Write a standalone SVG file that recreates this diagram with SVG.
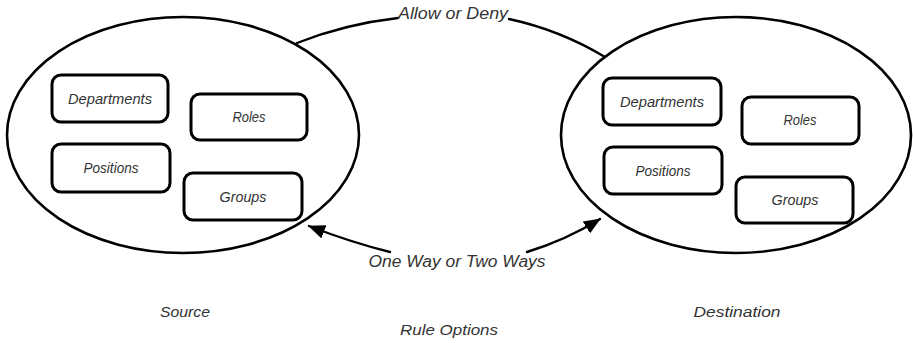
<svg xmlns="http://www.w3.org/2000/svg" width="913" height="343" viewBox="0 0 913 343">
  <style>
    .scope { fill: #ffffff; stroke: #000000; stroke-width: 2.6; }
    .box { fill: #ffffff; stroke: #000000; stroke-width: 3; stroke-linejoin: round; }
    .lbl { font-family: "Liberation Sans", Arial, sans-serif; font-style: italic; fill: #333333; text-anchor: middle; }
    .small { font-size: 14px; }
    .big { font-size: 16px; }
    .link { fill: none; stroke: #000000; stroke-width: 2.4; stroke-linecap: round; }
  </style>
  <defs>
    <marker id="head" markerUnits="userSpaceOnUse" markerWidth="18" markerHeight="14" refX="16" refY="7" orient="auto">
      <path d="M0,0 L17,7 L0,14 Z" fill="#000000"/>
    </marker>
  </defs>

  <rect width="913" height="343" fill="#ffffff"/>

  <!-- connectors -->
  <g id="connectors">
    <path class="link" d="M297,43 Q345,24 398,18"/>
    <path class="link" d="M509,19 Q560,30 605,57"/>
    <path class="link" d="M390,252 Q350,242 309,226" marker-end="url(#head)"/>
    <path class="link" d="M527,252 Q566,240 600,219" marker-end="url(#head)"/>
  </g>

  <!-- source scope -->
  <g id="source">
    <ellipse class="scope" cx="183" cy="135" rx="176" ry="118"/>
  </g>
  <g id="src-departments">
    <rect class="box" x="52" y="75" width="116" height="47" rx="9"/>
    <text class="lbl small" x="110" y="104" textLength="84" lengthAdjust="spacingAndGlyphs">Departments</text>
  </g>
  <g id="src-roles">
    <rect class="box" x="191" y="94" width="116" height="46" rx="9"/>
    <text class="lbl small" x="249" y="122" textLength="33" lengthAdjust="spacingAndGlyphs">Roles</text>
  </g>
  <g id="src-positions">
    <rect class="box" x="52" y="144" width="118" height="48" rx="9"/>
    <text class="lbl small" x="111" y="173" textLength="55" lengthAdjust="spacingAndGlyphs">Positions</text>
  </g>
  <g id="src-groups">
    <rect class="box" x="184" y="173" width="118" height="47" rx="9"/>
    <text class="lbl small" x="243" y="202" textLength="47" lengthAdjust="spacingAndGlyphs">Groups</text>
  </g>

  <!-- destination scope -->
  <g id="destination">
    <ellipse class="scope" cx="736" cy="135" rx="175" ry="118"/>
  </g>
  <g id="dst-departments">
    <rect class="box" x="603" y="78" width="118" height="47" rx="9"/>
    <text class="lbl small" x="662" y="107" textLength="84" lengthAdjust="spacingAndGlyphs">Departments</text>
  </g>
  <g id="dst-roles">
    <rect class="box" x="742" y="97" width="117" height="47" rx="9"/>
    <text class="lbl small" x="800" y="125" textLength="33" lengthAdjust="spacingAndGlyphs">Roles</text>
  </g>
  <g id="dst-positions">
    <rect class="box" x="604" y="147" width="118" height="47" rx="9"/>
    <text class="lbl small" x="663" y="176" textLength="55" lengthAdjust="spacingAndGlyphs">Positions</text>
  </g>
  <g id="dst-groups">
    <rect class="box" x="736" y="177" width="117" height="46" rx="9"/>
    <text class="lbl small" x="795" y="205" textLength="47" lengthAdjust="spacingAndGlyphs">Groups</text>
  </g>

  <!-- captions -->
  <text class="lbl big" x="453" y="19" textLength="110" lengthAdjust="spacingAndGlyphs">Allow or Deny</text>
  <text class="lbl big" x="457" y="267" textLength="177" lengthAdjust="spacingAndGlyphs">One Way or Two Ways</text>
  <text class="lbl small" x="185" y="317" textLength="50" lengthAdjust="spacingAndGlyphs">Source</text>
  <text class="lbl small" x="737" y="317" textLength="87" lengthAdjust="spacingAndGlyphs">Destination</text>
  <text class="lbl small" x="449" y="335" textLength="98" lengthAdjust="spacingAndGlyphs">Rule Options</text>
</svg>
